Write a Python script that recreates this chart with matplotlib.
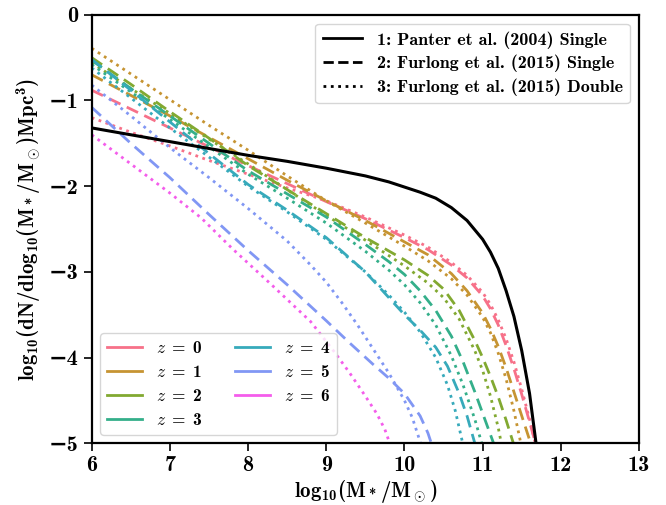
import matplotlib
matplotlib.use("Agg")
import matplotlib.pyplot as plt
import seaborn as sns
from matplotlib.lines import Line2D

panter_x = [6, 6.5, 7, 7.5, 8, 8.5, 9, 9.5, 9.8, 10.0, 10.2, 10.4, 10.6, 10.8, 11.0, 11.1, 11.2, 11.3, 11.4, 11.5, 11.6, 11.68, 11.72]
panter_y = [-1.32, -1.40, -1.48, -1.56, -1.64, -1.71, -1.79, -1.88, -1.95, -2.01, -2.07, -2.14, -2.25, -2.40, -2.62, -2.77, -2.96, -3.22, -3.52, -3.92, -4.42, -4.98, -5.2]

z0_single_x = [6, 6.5, 7, 7.5, 8, 8.5, 9, 9.5, 10, 10.3, 10.6, 10.8, 11.0, 11.1, 11.2, 11.3, 11.4, 11.5, 11.6, 11.7, 11.75]
z0_single_y = [-0.88, -1.10, -1.32, -1.54, -1.76, -1.97, -2.18, -2.38, -2.60, -2.74, -2.92, -3.07, -3.28, -3.43, -3.62, -3.86, -4.13, -4.43, -4.75, -5.08, -5.25]
z0_double_x = [6, 6.5, 7, 7.5, 8, 8.5, 9, 9.5, 10, 10.3, 10.6, 10.8, 11.0, 11.1, 11.2, 11.3, 11.4, 11.5, 11.6, 11.7]
z0_double_y = [-1.20, -1.37, -1.53, -1.70, -1.86, -2.02, -2.17, -2.36, -2.57, -2.71, -2.89, -3.04, -3.24, -3.38, -3.56, -3.78, -4.05, -4.37, -4.72, -5.1]

z1_single_x = [6, 6.5, 7, 7.5, 8, 8.5, 9, 9.5, 10, 10.3, 10.6, 10.8, 11.0, 11.1, 11.2, 11.3, 11.4, 11.5, 11.6, 11.66]
z1_single_y = [-0.70, -0.94, -1.18, -1.43, -1.68, -1.93, -2.17, -2.40, -2.65, -2.80, -3.02, -3.22, -3.48, -3.66, -3.87, -4.12, -4.40, -4.68, -4.96, -5.15]
z1_double_x = [6, 6.5, 7, 7.5, 8, 8.5, 9, 9.5, 10, 10.3, 10.6, 10.8, 11.0, 11.1, 11.2, 11.3, 11.4, 11.5]
z1_double_y = [-0.39, -0.69, -0.99, -1.29, -1.58, -1.88, -2.17, -2.43, -2.70, -2.87, -3.08, -3.27, -3.53, -3.71, -3.95, -4.25, -4.62, -5.05]

z2_single_x = [6, 6.5, 7, 7.5, 8, 8.5, 9, 9.5, 10, 10.3, 10.5, 10.7, 10.9, 11.0, 11.1, 11.2, 11.3, 11.4, 11.45]
z2_single_y = [-0.50, -0.81, -1.13, -1.44, -1.76, -2.04, -2.32, -2.60, -2.86, -3.04, -3.20, -3.45, -3.80, -4.00, -4.22, -4.46, -4.73, -5.02, -5.2]
z2_double_x = [6, 6.5, 7, 7.5, 8, 8.5, 9, 9.5, 10, 10.3, 10.5, 10.7, 10.9, 11.0, 11.1, 11.2, 11.26]
z2_double_y = [-0.56, -0.86, -1.15, -1.45, -1.74, -2.04, -2.34, -2.63, -2.93, -3.13, -3.30, -3.55, -3.92, -4.15, -4.45, -4.82, -5.1]

z3_single_x = [6, 6.5, 7, 7.5, 8, 8.5, 9, 9.5, 9.8, 10.0, 10.2, 10.4, 10.6, 10.75, 10.9, 11.0, 11.1, 11.2]
z3_single_y = [-0.53, -0.86, -1.18, -1.50, -1.82, -2.09, -2.36, -2.68, -2.88, -3.03, -3.22, -3.45, -3.75, -4.05, -4.40, -4.65, -4.90, -5.15]
z3_double_x = [6, 6.5, 7, 7.5, 8, 8.5, 9, 9.5, 9.8, 10.0, 10.2, 10.4, 10.6, 10.75, 10.9, 11.02]
z3_double_y = [-0.58, -0.90, -1.22, -1.54, -1.86, -2.14, -2.43, -2.76, -2.98, -3.15, -3.36, -3.62, -3.98, -4.32, -4.72, -5.1]

z4_single_x = [6, 6.5, 7, 7.5, 8, 8.5, 9, 9.5, 9.8, 10.0, 10.2, 10.4, 10.55, 10.7, 10.8, 10.9, 10.95]
z4_single_y = [-0.52, -0.88, -1.25, -1.62, -1.98, -2.28, -2.60, -3.00, -3.30, -3.50, -3.68, -3.88, -4.10, -4.42, -4.68, -5.0, -5.2]
z4_double_x = [6, 6.5, 7, 7.5, 8, 8.5, 9, 9.5, 9.8, 10.0, 10.2, 10.4, 10.55, 10.65, 10.77]
z4_double_y = [-0.62, -0.97, -1.32, -1.66, -2.00, -2.30, -2.62, -3.00, -3.27, -3.47, -3.70, -4.00, -4.32, -4.62, -5.1]

z5_single_x = [6, 6.5, 7, 7.5, 8, 8.5, 9.0, 9.3, 9.6, 9.8, 10.0, 10.2, 10.3, 10.38]
z5_single_y = [-1.08, -1.50, -1.90, -2.33, -2.75, -3.15, -3.57, -3.83, -4.08, -4.24, -4.42, -4.68, -4.88, -5.1]
z5_double_x = [6, 6.5, 7, 7.5, 8, 8.5, 8.8, 9.0, 9.2, 9.4, 9.6, 9.8, 10.0, 10.1, 10.2, 10.25]
z5_double_y = [-0.82, -1.18, -1.55, -1.90, -2.26, -2.64, -2.92, -3.12, -3.36, -3.62, -3.90, -4.18, -4.50, -4.70, -4.98, -5.15]

z6_double_x = [6, 6.5, 7, 7.4, 7.8, 8.3, 8.8, 9.1, 9.3, 9.5, 9.65, 9.75, 9.85]
z6_double_y = [-1.40, -1.74, -2.08, -2.37, -2.73, -3.15, -3.58, -3.93, -4.18, -4.45, -4.66, -4.84, -5.1]

z_labels = [r'$z\;=\;%d$' % z for z in range(7)]
model_labels = ['1: Panter et al. (2004) Single',
                '2: Furlong et al. (2015) Single',
                '3: Furlong et al. (2015) Double']

single = [(z0_single_x, z0_single_y), (z1_single_x, z1_single_y), (z2_single_x, z2_single_y),
          (z3_single_x, z3_single_y), (z4_single_x, z4_single_y), (z5_single_x, z5_single_y), None]
double = [(z0_double_x, z0_double_y), (z1_double_x, z1_double_y), (z2_double_x, z2_double_y),
          (z3_double_x, z3_double_y), (z4_double_x, z4_double_y), (z5_double_x, z5_double_y),
          (z6_double_x, z6_double_y)]

plt.rcParams['font.family'] = ['cmb10', 'DejaVu Serif']
plt.rcParams['mathtext.fontset'] = 'custom'
plt.rcParams['mathtext.rm'] = 'cmb10'
plt.rcParams['mathtext.bf'] = 'cmb10'
plt.rcParams['mathtext.it'] = 'cmmi10'
plt.rcParams['axes.formatter.use_mathtext'] = False
plt.rcParams['axes.unicode_minus'] = True

colors = sns.color_palette("husl", 7)

fig = plt.figure(figsize=(6.66, 5.05), dpi=100)
ax = fig.add_axes([0.1377, 0.1222, 0.8218, 0.8485])

for i in range(7):
    if single[i] is not None:
        ax.plot(single[i][0], single[i][1], color=colors[i], lw=2, linestyle=(0, (4.5, 2.5)))
    ax.plot(double[i][0], double[i][1], color=colors[i], lw=2, linestyle=':')

ax.plot(panter_x, panter_y, color='black', lw=2.2)

ax.set_xlim(6, 13)
ax.set_ylim(-5, 0)
ax.set_xticks([6, 7, 8, 9, 10, 11, 12, 13])
ax.set_yticks([0, -1, -2, -3, -4, -5])
ax.tick_params(labelsize=16, length=6, width=1.2)
for lab in ax.get_xticklabels() + ax.get_yticklabels():
    lab.set_fontweight('bold')
for s in ax.spines.values():
    s.set_linewidth(1.6)

ax.set_xlabel(r'$\mathrm{log_{10}(M_*/M_\odot)}$', fontsize=15, labelpad=2)
ax.set_ylabel(r'$\mathrm{log_{10}(dN/dlog_{10}(M_*/M_\odot)Mpc^3)}$', fontsize=15, labelpad=4)

h1 = [Line2D([], [], color='black', lw=2, linestyle=ls) for ls in ['-', '--', ':']]
leg1 = ax.legend(h1, model_labels, loc='upper right', fontsize=13, handlelength=2.2,
                 labelspacing=0.35)
ax.add_artist(leg1)

h2 = [Line2D([], [], color=c, lw=2) for c in colors]
ax.legend(h2, z_labels, loc='lower left', ncol=2, fontsize=12.5, handlelength=2.0,
          handletextpad=0.8, columnspacing=1.9, labelspacing=0.45)

plt.savefig('out.png', dpi=100)
